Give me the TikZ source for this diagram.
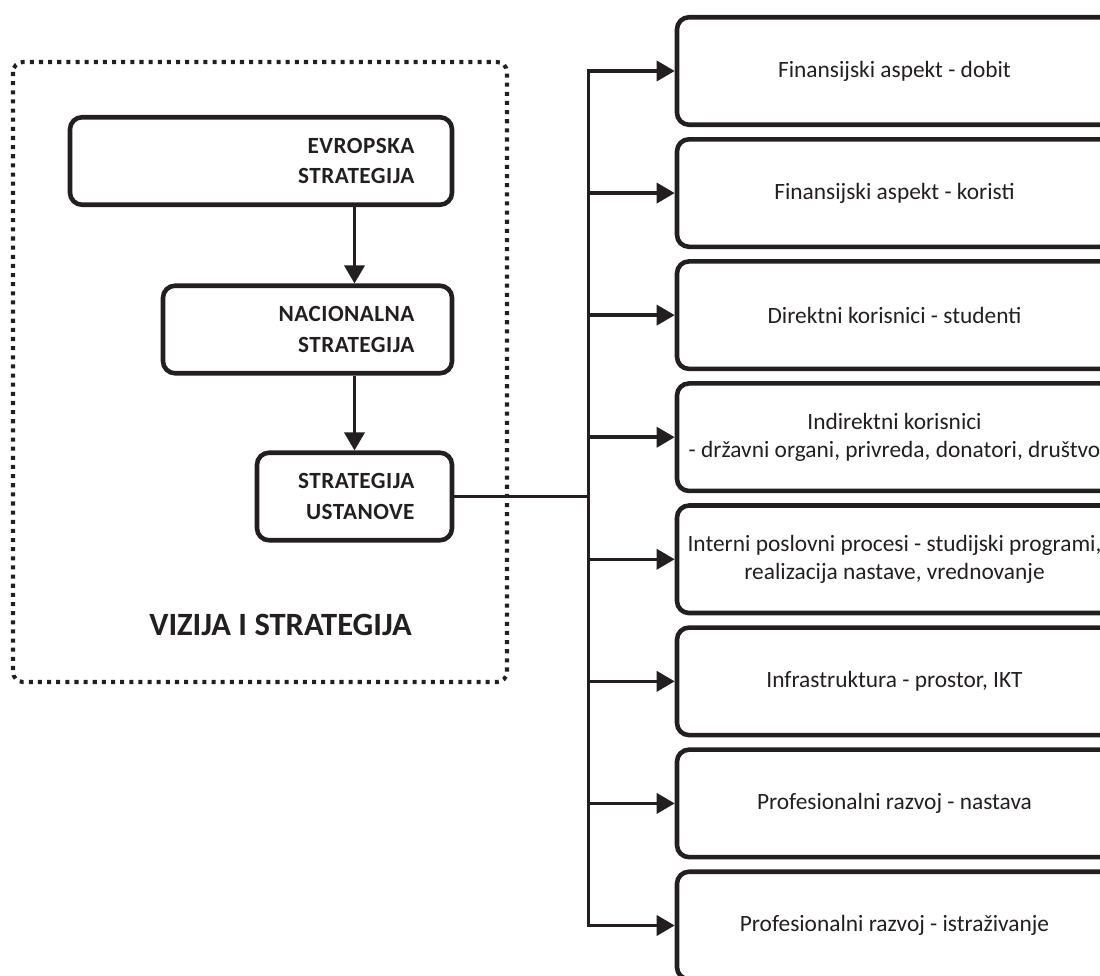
\documentclass[tikz,border=0pt]{standalone}
\usepackage{fontspec}
\setmainfont{Carlito}
\usepackage{xcolor}
\usepackage{tikz}
\usetikzlibrary{positioning, arrows.meta}
\definecolor{InkBlack}{RGB}{35,31,32}
\newcommand{\stratfont}{\fontsize{13.2}{17.6}\selectfont\bfseries\addfontfeatures{LetterSpace=2}}
\newcommand{\aspectfont}{\fontsize{13.3}{15.6}\selectfont}
\newcommand{\titlefont}{\fontsize{18.5}{22}\selectfont\bfseries}
\tikzset{
    stratnode/.style={
        draw=InkBlack, line width=2.6pt, rounded corners=0.24cm, minimum height=1.75cm,
        inner xsep=0.75cm, align=right, text=InkBlack, font=\stratfont
    },
    aspectnode/.style={
        draw=InkBlack, line width=2.6pt, rounded corners=0.24cm, minimum width=8.7cm,
        minimum height=2.15cm, align=center, text=InkBlack, font=\aspectfont
    },
    ptr/.style={
        -{Triangle[length=0.36cm, width=0.4cm]}, line width=2pt, InkBlack
    },
    conn/.style={
        line width=2pt, InkBlack
    },
    framebox/.style={
        draw=InkBlack, line width=2.3pt, dash pattern=on 2.3pt off 2.9pt, rounded corners=0.2cm
    }
}

\begin{document}
\begin{tikzpicture}
                \useasboundingbox (0,0) rectangle (22,-19.52);
                \clip (0,0) rectangle (22,-19.52);
                % strategija (levi deo)
                \draw[framebox] (0.26,-1.24) rectangle (10.14,-13.64);
                \node[text=InkBlack, font=\titlefont] (vizija) at (5.61,-12.5) {VIZIJA I STRATEGIJA};
                \node[stratnode, text width=6.14cm] (evropska) at (5.22,-3.22) {EVROPSKA\\STRATEGIJA};
                \node[stratnode, text width=4.28cm] (nacionalna) at (6.15,-6.59) {NACIONALNA\\STRATEGIJA};
                \node[stratnode, text width=2.4cm] (ustanove) at (7.09,-9.93) {STRATEGIJA\\USTANOVE};
                \draw[ptr] (ustanove |- evropska.south) -- (ustanove |- nacionalna.north);
                \draw[ptr] (ustanove |- nacionalna.south) -- (ustanove.north);
                % perspektive (desni deo)
                \node[aspectnode] (dobit) at (17.89,-1.42) {Finansijski aspekt - dobit};
                \node[aspectnode, below=0.2cm of dobit] (koristi) {Finansijski aspekt - koristi};
                \node[aspectnode, below=0.2cm of koristi] (studenti) {Direktni korisnici - studenti};
                \node[aspectnode, below=0.2cm of studenti] (indirektni) {Indirektni korisnici\\- državni organi, privreda, donatori, društvo};
                \node[aspectnode, below=0.2cm of indirektni] (interni) {Interni poslovni procesi - studijski programi,\\realizacija nastave, vrednovanje};
                \node[aspectnode, below=0.2cm of interni] (infra) {Infrastruktura - prostor, IKT};
                \node[aspectnode, below=0.2cm of infra] (nastava) {Profesionalni razvoj - nastava};
                \node[aspectnode, below=0.2cm of nastava] (istrazivanje) {Profesionalni razvoj - istraživanje};
                \coordinate[right=2.68cm of ustanove] (bus);
                \draw[conn] (ustanove) -- (bus);
                \draw[ptr] (bus) |- (dobit);
                \draw[ptr] (bus) |- (koristi);
                \draw[ptr] (bus) |- (studenti);
                \draw[ptr] (bus) |- (indirektni);
                \draw[ptr] (bus) |- (interni);
                \draw[ptr] (bus) |- (infra);
                \draw[ptr] (bus) |- (nastava);
                \draw[ptr] (bus) |- (istrazivanje);
            \end{tikzpicture}
\end{document}
